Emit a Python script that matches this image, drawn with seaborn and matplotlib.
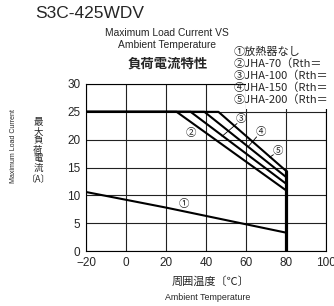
import matplotlib
matplotlib.use('Agg')
import matplotlib.pyplot as plt
from matplotlib.patches import Rectangle
import pandas as pd
import seaborn as sns

# Datos
temp_1 = [-20, 0, 20, 40, 60, 80]
curr_1 = [10.6, 9.2, 7.8, 6.3, 4.8, 3.3]
temp_2 = [-20, 25.3, 80]
curr_2 = [25, 25, 10.9]
temp_3 = [-20, 32.3, 80]
curr_3 = [25, 25, 12.1]
temp_4 = [-20, 39.2, 80]
curr_4 = [25, 25, 13.3]
temp_5 = [-20, 46.2, 80]
curr_5 = [25, 25, 14.4]
temp_cut = [80, 80]
curr_cut = [0, 14.4]

x_ticks = [-20, 0, 20, 40, 60, 80, 100]
y_ticks = [0, 5, 10, 15, 20, 25, 30]
legend_lines = ['①放熱器なし', '②JHA-70（Rth＝', '③JHA-100（Rth＝',
                '④JHA-150（Rth＝', '⑤JHA-200（Rth＝']
ylabel_jp = '最大負荷電流'

sns.set_style('white')
plt.rcParams['font.family'] = ['Liberation Sans', 'DejaVu Sans']
jp = ['Noto Sans CJK JP', 'DejaVu Sans']

fig = plt.figure(figsize=(3.34, 3.06), dpi=100)
ax = fig.add_axes([0.2575, 0.1797, 0.7186, 0.5458])

series = [(temp_1, curr_1), (temp_2, curr_2), (temp_3, curr_3),
          (temp_4, curr_4), (temp_5, curr_5)]
for t, c in series:
    sns.lineplot(x=t, y=c, ax=ax, color='black', linewidth=1.5,
                 sort=False, estimator=None, zorder=4)
sns.lineplot(x=temp_cut, y=curr_cut, ax=ax, color='black', linewidth=2.3,
             sort=False, estimator=None, zorder=4)

ax.set_xlim(-20, 100)
ax.set_ylim(0, 30)
ax.set_xticks(x_ticks)
ax.set_yticks(y_ticks)
ax.grid(True, color='#222222', linewidth=0.8)
ax.tick_params(length=0, labelsize=8.5, pad=4)
for s in ax.spines.values():
    s.set_color('black')
    s.set_linewidth(0.8)
ax.set_xlabel('')
ax.set_ylabel('')

# Etiquetas numeradas
ax.text(28.7, 8.5, '①', family=jp, fontsize=7.5, ha='center', va='center')
ax.text(32.3, 21.25, '②', family=jp, fontsize=7.5, ha='center', va='center')
ax.text(57.5, 23.7, '③', family=jp, fontsize=7.5, ha='center', va='center')
ax.text(67.3, 21.3, '④', family=jp, fontsize=7.5, ha='center', va='center')
ax.text(75.7, 18.0, '⑤', family=jp, fontsize=7.5, ha='center', va='center')
ax.plot([55.5, 48], [22.9, 20.6], color='black', linewidth=0.6)
ax.plot([65.3, 61.2], [20.5, 18.8], color='black', linewidth=0.6)
ax.plot([73.7, 71.7], [17.3, 16.8], color='black', linewidth=0.6)

# Caja blanca de la leyenda
ax.add_patch(Rectangle((0.667, 0.853), 0.5, 0.5, transform=ax.transAxes,
                       facecolor='white', edgecolor='none', clip_on=False,
                       zorder=5))
for i, txt in enumerate(legend_lines):
    fig.text(234 / 334, 1 - (52 + 12 * i) / 306, txt, family=jp, fontsize=8,
             ha='left', va='center', zorder=6)

# Títulos
fig.text(35 / 334, 1 - 14 / 306, 'S3C-425WDV', fontsize=12.5, ha='left', va='center')
fig.text(167 / 334, 1 - 33 / 306, 'Maximum Load Current VS', fontsize=7.4,
         ha='center', va='center')
fig.text(167 / 334, 1 - 45 / 306, 'Ambient Temperature', fontsize=7.4,
         ha='center', va='center')
fig.text(168 / 334, 1 - 64 / 306, '負荷電流特性', family=jp, fontsize=9.6,
         fontweight='bold', ha='center', va='center')

# Ejes
fig.text(14 / 334, 1 - 146 / 306, 'Maximum Load Current', fontsize=5,
         rotation=90, ha='center', va='center')
for i, ch in enumerate(ylabel_jp):
    fig.text(38 / 334, 1 - (123 + 9 * i) / 306, ch, family=jp, fontsize=6.8,
             ha='center', va='center')
fig.text(38 / 334, 1 - 180 / 306, '〔A〕', family=jp, fontsize=6.5,
         ha='center', va='center')
fig.text(211 / 334, 1 - 282 / 306, '周囲温度〔℃〕', family=jp, fontsize=8,
         ha='center', va='center')
fig.text(208 / 334, 1 - 298 / 306, 'Ambient Temperature', fontsize=6.4,
         ha='center', va='center')

fig.savefig('out.png', dpi=100)
